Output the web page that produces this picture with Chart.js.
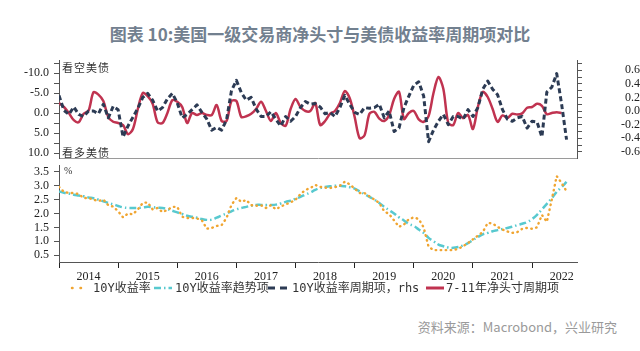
<!DOCTYPE html>
<html lang="zh-CN">
<head>
<meta charset="utf-8">
<title>美国一级交易商净头寸与美债收益率周期项对比</title>
<script src="https://cdn.jsdelivr.net/npm/chart.js@4.4.1/dist/chart.umd.min.js"></script>
<style>
  html, body { margin: 0; padding: 0; background: #fff; }
  body { position: relative; width: 640px; height: 351px; overflow: hidden; font-family: "Noto Sans CJK SC", "Noto Sans", sans-serif; }
  #title { position: absolute; top: 21px; left: 0; width: 640px; text-align: center; font-size: 17px; font-weight: bold; color: #72808f; white-space: nowrap; }
  .panel { position: absolute; left: 0; line-height: 0; }
  #top-panel { top: 55px; }
  #bottom-panel { top: 160px; }
  .note { position: absolute; font-size: 11px; line-height: 12px; color: #333; letter-spacing: 1px; white-space: nowrap; }
  .unit { position: absolute; font-family: "Liberation Serif", serif; font-size: 10px; color: #333; }
  .lg-swatch { position: absolute; top: 285px; }
  .lg-text { position: absolute; top: 280px; font-family: "DejaVu Sans Mono", "Noto Sans CJK SC", monospace; font-size: 12px; line-height: 16px; color: #333; white-space: nowrap; }
  #source { position: absolute; top: 318px; right: 23px; font-size: 13px; line-height: 18px; color: #9a9a9a; white-space: nowrap; }
</style>
</head>
<body>
<div id="title">图表 10:美国一级交易商净头寸与美债收益率周期项对比</div>

<div class="panel" id="top-panel"><canvas id="topChart" width="640" height="110"></canvas></div>
<div class="panel" id="bottom-panel"><canvas id="bottomChart" width="640" height="130"></canvas></div>

<div class="note" style="left:62px; top:61px;">看空美债</div>
<div class="note" style="left:62px; top:146px;">看多美债</div>
<div class="unit" style="left:64px; top:165px;">%</div>

<!-- legend -->
<svg class="lg-swatch" style="left:70px" width="16" height="6"><line x1="2" y1="3" x2="14" y2="3" stroke="#f0a531" stroke-width="2.5" stroke-linecap="round" stroke-dasharray="0.5 8"/></svg>
<span class="lg-text" style="left:93px">10Y收益率</span>
<svg class="lg-swatch" style="left:153px" width="20" height="6"><line x1="1" y1="3" x2="19" y2="3" stroke="#58c9cf" stroke-width="2.5" stroke-dasharray="7 3 1.5 3"/></svg>
<span class="lg-text" style="left:175px">10Y收益率趋势项</span>
<svg class="lg-swatch" style="left:267px" width="21" height="6"><line x1="1" y1="3" x2="20" y2="3" stroke="#2c3b54" stroke-width="3" stroke-dasharray="7 5"/></svg>
<span class="lg-text" style="left:292px">10Y收益率周期项，rhs</span>
<svg class="lg-swatch" style="left:426px" width="18" height="6"><line x1="0" y1="3" x2="18" y2="3" stroke="#c03350" stroke-width="3"/></svg>
<span class="lg-text" style="left:446px">7-11年净头寸周期项</span>

<div id="source">资料来源：Macrobond，兴业研究</div>

<script>
// =================================================================================
// --- DATA (monthly, Jan 2014 onwards) ---
// =================================================================================

const START_YEAR = 2014;
const MONTH_COUNT = 104;
const monthLabels = [];
for (let i = 0; i < MONTH_COUNT; i++) {
    const y = START_YEAR + Math.floor(i / 12);
    const m = (i % 12) + 1;
    monthLabels.push(`${y}-${String(m).padStart(2, '0')}`);
}

const yearLabels = ['2014', '2015', '2016', '2017', '2018', '2019', '2020', '2021', '2022'];

// 7-11年净头寸周期项 (left axis, inverted)
const netPositionCycle = [
    -2.5, -1.5, 0, 1.8, 2.3, 0.2, -0.6, -5.2, -4.6, -3,
    1.0, 2.2, 2.5, 3, 5.3, 4, -1, -5, -4.2, -2.3,
    2.3, 2.5, 0, -3.2, -2.8, -1.5, 2.5, 0, 0.5, 0,
    0.5, 0.5, -2, 2, 2, -3, -3, 1, 0.8, 0.2,
    -1, -2.8, -0.5, 2, 0, 2.5, 3.2, -1, -3.5, -1.5,
    -0.5, -0.5, -2.5, 3, 2, 0.2, -0.5, -2.5, -5.5, -3.7,
    1, 6.3, 5.6, 0.2, -0.3, 1.4, 2, 0.5, -3.5, -5.3,
    1.5, 0, -0.5, 1.6, 2.2, 0.8, -5, -9, -6, 2.5,
    3, 0, 1.3, 0.5, 4, -1.5, -5.3, -4, -1, 2.2,
    0.6, 1.2, 0.2, 0.4, 0.1, -1.3, -1.5, -2.3, -1.8, 0.3,
    0, -0.2, 0
];

// 10Y收益率周期项 (right axis)
const yieldCycle = [
    0.23, 0.01, -0.05, 0.06, -0.05, -0.08, 0, 0, -0.04, 0.1,
    -0.1, 0.07, 0.02, -0.38, -0.22, -0.09, 0.04, 0.2, 0.26, 0.16,
    0, 0.05, 0.18, 0.26, 0.12, -0.1, -0.05, 0.02, 0.09, -0.02,
    -0.12, -0.28, -0.24, -0.28, -0.13, 0.3, 0.45, 0.27, 0.16, 0.2,
    0.03, -0.08, -0.08, -0.01, -0.12, -0.22, -0.08, -0.15, -0.08, 0.05,
    0.14, 0.1, 0.11, 0.06, -0.04, -0.02, -0.08, 0.05, 0.23, 0.1,
    -0.02, -0.05, 0.05, 0.04, 0.05, 0.1, -0.1, 0, -0.3, -0.25,
    0.05, 0.22, 0.38, 0.43, 0.22, -0.45, -0.28, -0.15, -0.05, -0.2,
    -0.08, -0.08, -0.12, 0.02, -0.08, 0.05, 0.32, 0.44, 0.32, 0.24,
    0.02, -0.12, -0.15, -0.1, -0.08, -0.25, -0.15, -0.16, -0.38, 0.28,
    0.35, 0.55, 0.1, -0.42
];

// 10Y收益率 (%)
const yield10Y = [
    2.96, 2.78, 2.74, 2.74, 2.7, 2.56, 2.56, 2.5, 2.45, 2.5,
    2.3, 2.25, 2.08, 1.86, 2.0, 1.97, 2.15, 2.38, 2.4, 2.15,
    2.2, 2.05, 2.13, 2.24, 2.24, 1.88, 1.84, 1.84, 1.82, 1.75,
    1.45, 1.48, 1.55, 1.58, 1.84, 2.31, 2.56, 2.42, 2.49, 2.3,
    2.28, 2.3, 2.2, 2.3, 2.15, 2.25, 2.33, 2.4, 2.5, 2.7,
    2.85, 2.92, 3.03, 2.96, 2.93, 2.92, 2.95, 3.0, 3.15, 3.05,
    2.9, 2.74, 2.74, 2.62, 2.5, 2.38, 2.08, 1.98, 1.75, 1.52,
    1.6, 1.8, 1.86, 1.8, 1.5, 0.8, 0.68, 0.68, 0.68, 0.68,
    0.68, 0.72, 0.82, 0.93, 1.07, 1.2, 1.33, 1.66, 1.64, 1.52,
    1.42, 1.35, 1.3, 1.33, 1.45, 1.48, 1.45, 1.5, 1.95, 1.7,
    2.5, 3.35, 3.1, 2.8
];

// 10Y收益率趋势项 (%)
const yieldTrend = [
    2.8, 2.75, 2.72, 2.68, 2.65, 2.62, 2.58, 2.55, 2.5, 2.44,
    2.38, 2.33, 2.27, 2.22, 2.2, 2.2, 2.2, 2.22, 2.24, 2.23,
    2.21, 2.2, 2.16, 2.1, 2.04, 1.98, 1.92, 1.88, 1.85, 1.8,
    1.77, 1.78, 1.85, 1.93, 2.0, 2.08, 2.15, 2.2, 2.24, 2.28,
    2.31, 2.31, 2.31, 2.31, 2.32, 2.36, 2.42, 2.46, 2.53, 2.6,
    2.68, 2.76, 2.85, 2.92, 2.96, 2.98, 3.0, 3.0, 2.98, 2.95,
    2.9, 2.8, 2.7, 2.6, 2.5, 2.38, 2.24, 2.12, 2.0, 1.86,
    1.75, 1.62, 1.55, 1.42, 1.3, 1.12, 1.0, 0.88, 0.82, 0.77,
    0.76, 0.79, 0.85, 0.93, 1.04, 1.15, 1.25, 1.3, 1.36, 1.4,
    1.44, 1.48, 1.52, 1.58, 1.63, 1.69, 1.8, 1.95, 2.15, 2.35,
    2.55, 2.78, 2.95, 3.14
];

// axis ticks
const leftTicks = [-12.5, -10, -7.5, -5, -2.5, 0, 2.5, 5, 7.5, 10];
const rightTicks = [-6, -5, -4, -3, -2, -1, 0, 1, 2, 3, 4, 5, 6, 7].map(k => k / 10);
const yieldTicks = [0.5, 1.0, 1.5, 2.0, 2.5, 3.0, 3.5];

// =================================================================================
// --- SHARED SETTINGS ---
// =================================================================================

const X_MIN = 2014;
const X_MAX = 2022.76;
const COLORS = { net: '#c03350', cycle: '#2c3b54', yield: '#f0a531', trend: '#58c9cf', axis: '#555', text: '#222' };
const tickFont = { family: '"Liberation Serif", "Times New Roman", serif', size: 12 };

// month label "YYYY-MM" -> decimal year (position on the linear time axis)
function toDecimalYear(label) {
    const [y, m] = label.split('-').map(Number);
    return y + (m - 1) / 12;
}
const xValues = monthLabels.map(toDecimalYear);

// fixed axis size, and no extra room reserved for labels hanging off the ends
function fixSize(prop, size) {
    return s => {
        s[prop] = size;
        s.paddingTop = 0; s.paddingBottom = 0; s.paddingLeft = 0; s.paddingRight = 0;
    };
}

const baseOptions = {
    responsive: false,
    animation: false,
    events: [],
    plugins: { legend: { display: false }, tooltip: { enabled: false } },
    elements: { point: { radius: 0 }, line: { borderJoinStyle: 'round' } }
};

// =================================================================================
// --- TOP PANEL: net positions vs yield cycle ---
// =================================================================================

new Chart(document.getElementById('topChart'), {
    type: 'line',
    data: {
        labels: xValues,
        datasets: [
            {
                label: '10Y收益率周期项, rhs',
                data: yieldCycle,
                yAxisID: 'yR',
                borderColor: COLORS.cycle,
                borderWidth: 3,
                borderDash: [5, 3],
                tension: 0,
                order: 0
            },
            {
                label: '7-11年净头寸周期项',
                data: netPositionCycle,
                yAxisID: 'yL',
                borderColor: COLORS.net,
                borderWidth: 2.5,
                tension: 0.3,
                order: 1
            }
        ]
    },
    options: {
        ...baseOptions,
        layout: { padding: { top: 5, left: 0, right: 0, bottom: 0 } },
        scales: {
            x: {
                type: 'linear', min: X_MIN, max: X_MAX,
                ticks: { display: false },
                grid: { display: false },
                border: { display: true, color: '#9a9a9a', width: 1 },
                afterFit: fixSize('height', 7)
            },
            yL: {
                position: 'left', reverse: true, min: -13.25, max: 11.25,
                afterBuildTicks: s => { s.ticks = leftTicks.map(v => ({ value: v })); },
                ticks: { font: tickFont, color: COLORS.text, padding: 5, autoSkip: false,
                         callback: v => (v % 5 === 0 ? v.toFixed(1) : '') },
                grid: { drawOnChartArea: false, tickLength: 5, color: COLORS.axis },
                border: { color: COLORS.axis },
                afterFit: fixSize('width', 59)
            },
            yR: {
                position: 'right', min: -0.69, max: 0.75,
                afterBuildTicks: s => { s.ticks = rightTicks.map(v => ({ value: v })); },
                ticks: { font: tickFont, color: COLORS.text, padding: 6, crossAlign: 'far', autoSkip: false,
                         callback: v => (Math.round(v * 10) % 2 === 0 ? v.toFixed(1) : '') },
                grid: { drawOnChartArea: false, tickLength: 5, color: COLORS.axis },
                border: { color: COLORS.axis },
                afterFit: fixSize('width', 63)
            }
        }
    }
});

// =================================================================================
// --- BOTTOM PANEL: 10Y yield and its trend ---
// =================================================================================

const yearTickValues = [];
yearLabels.forEach(y => { yearTickValues.push(+y, +y + 0.5); });

new Chart(document.getElementById('bottomChart'), {
    type: 'line',
    data: {
        labels: xValues,
        datasets: [
            {
                label: '10Y收益率',
                data: yield10Y,
                borderColor: COLORS.yield,
                borderWidth: 2.4,
                borderDash: [0.5, 4.5],
                borderCapStyle: 'round',
                tension: 0,
                order: 0
            },
            {
                label: '10Y收益率趋势项',
                data: yieldTrend,
                borderColor: COLORS.trend,
                borderWidth: 2.5,
                borderDash: [7, 3, 1.5, 3],
                tension: 0.4,
                order: 1
            }
        ]
    },
    options: {
        ...baseOptions,
        layout: { padding: { top: 5, left: 0, right: 63, bottom: 0 } },
        scales: {
            x: {
                type: 'linear', min: X_MIN, max: X_MAX,
                afterBuildTicks: s => { s.ticks = yearTickValues.map(v => ({ value: v })); },
                ticks: { font: tickFont, color: COLORS.text, padding: 2, autoSkip: false, maxRotation: 0,
                         callback: v => (v % 1 !== 0 ? String(Math.floor(v)) : '') },
                grid: { drawOnChartArea: false, tickLength: 6,
                        tickColor: ctx => (ctx.tick && ctx.tick.value % 1 === 0 ? '#222' : 'rgba(0,0,0,0)') },
                border: { color: COLORS.axis },
                afterFit: fixSize('height', 28)
            },
            y: {
                position: 'left', min: 0.25, max: 3.75,
                afterBuildTicks: s => { s.ticks = yieldTicks.map(v => ({ value: v })); },
                ticks: { font: tickFont, color: COLORS.text, padding: 5, autoSkip: false,
                         callback: v => v.toFixed(1) },
                grid: { drawOnChartArea: false, tickLength: 5, color: COLORS.axis },
                border: { color: COLORS.axis },
                afterFit: fixSize('width', 59)
            }
        }
    }
});
</script>
</body>
</html>
